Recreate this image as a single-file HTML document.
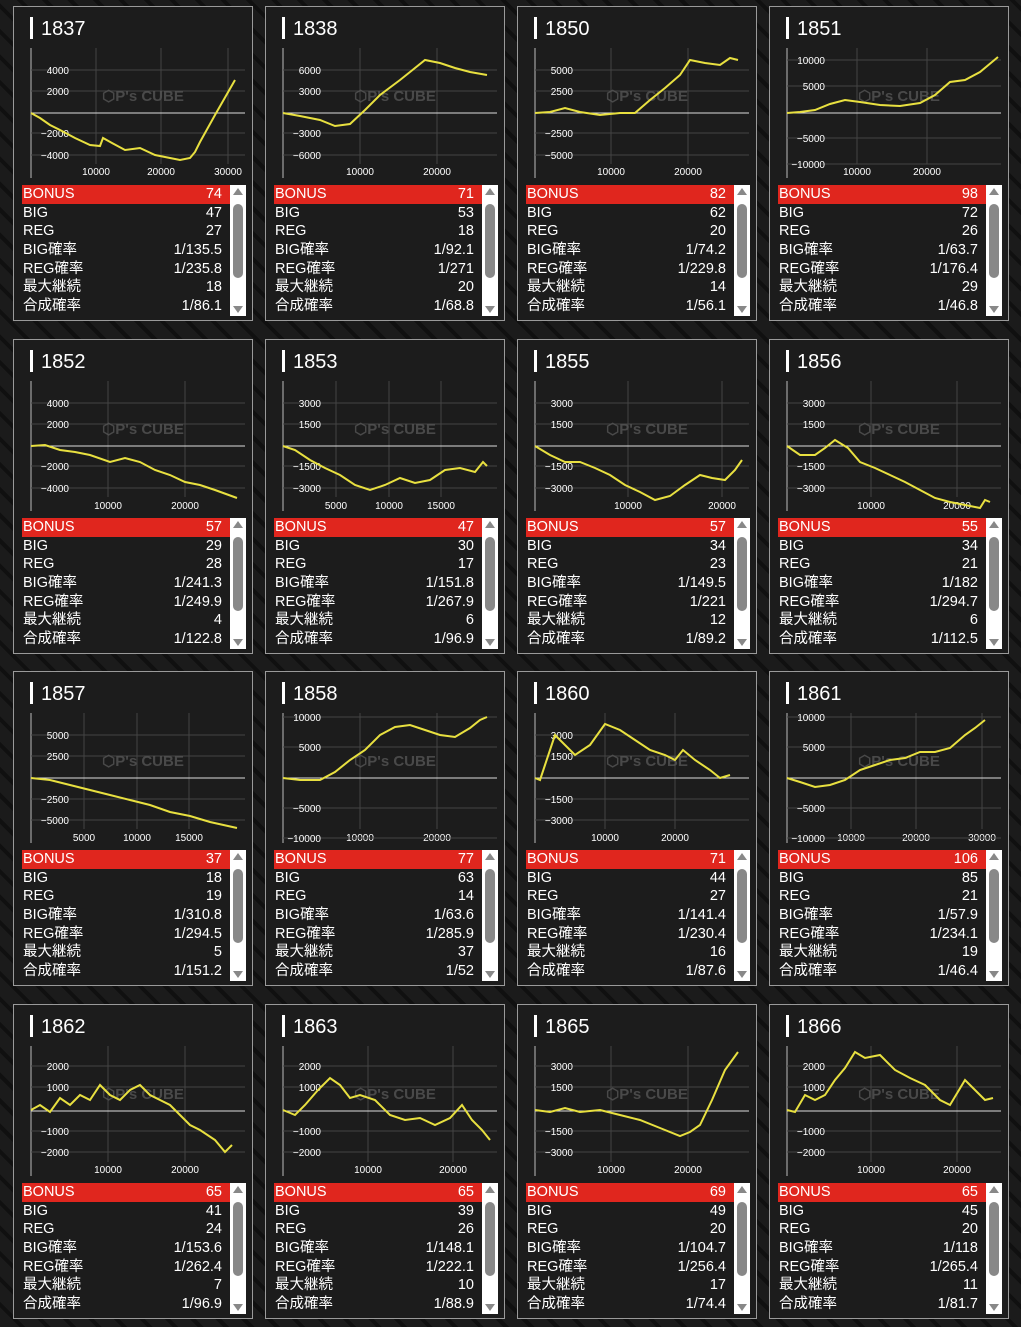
<!DOCTYPE html><html><head><meta charset="utf-8"><style>
body{margin:0;width:1021px;height:1327px;background:#161616;overflow:hidden;font-family:"Liberation Sans","Noto Sans CJK JP",sans-serif;position:relative}
.bg{position:absolute;inset:0;background:repeating-linear-gradient(45deg,#1c1c1c 0 14px,#101010 14px 18px),#151515;opacity:.9}
.card{position:absolute;width:238px;height:313px;border:1px solid #9a9a9a;background:#1c1c1c}
.tt{position:absolute;left:16px;top:10px;height:22px;border-left:3px solid #fff;padding-left:8px;color:#fff;font-size:20px;line-height:24px}
.tb{position:absolute;left:8px;top:178px;width:208px;color:#fff;font-size:14.5px}
.r{height:18.7px;line-height:18.7px;display:flex;justify-content:space-between;padding:0 8px 0 1px}
.r.b{background:#e0261e}
.sb{position:absolute;left:216px;top:178px;width:16px;height:131px;background:#fff}
.sb .th{position:absolute;left:3px;top:19px;width:10px;height:74px;background:#888;border-radius:5px}
.sb .u{position:absolute;left:3px;top:3px;border:5px solid transparent;border-bottom:7px solid #888;border-top:0}
.sb .d{position:absolute;left:3px;bottom:3px;border:5px solid transparent;border-top:7px solid #888;border-bottom:0}
svg{position:absolute;left:0;top:0}
</style></head><body><div class="bg"></div><div id="c"></div>
<svg id="s" width="1021" height="1327"></svg>
<script>
const cx=[13,265,517,769],ry=[6,339,671,1004];
const D=[
["1837",[["4000",70],["2000",91],["−2000",133],["−4000",155]],171,[["10000",96],["20000",161],["30000",228]],
[31,113,40,118,50,125,60,130,75,138,90,145,100,146,103,138,112,143,125,150,140,148,155,155,170,158,180,160,190,158,195,152,200,142,215,115,235,80],["74","47","27","1/135.5","1/235.8","18","1/86.1"]],
["1838",[["6000",70],["3000",91],["−3000",133],["−6000",155]],171,[["10000",360],["20000",437]],
[283,113,300,116,320,120,335,126,350,124,365,110,380,95,400,80,410,72,425,60,440,63,455,68,470,72,487,75],["71","53","18","1/92.1","1/271","20","1/68.8"]],
["1850",[["5000",70],["2500",91],["−2500",133],["−5000",155]],171,[["10000",611],["20000",688]],
[535,113,550,112,565,108,580,112,600,115,620,113,635,113,650,100,665,88,680,75,690,60,705,63,720,65,730,58,738,60],["82","62","20","1/74.2","1/229.8","14","1/56.1"]],
["1851",[["10000",60],["5000",86],["−5000",138],["−10000",164]],171,[["10000",857],["20000",927]],
[787,113,800,112,815,110,830,104,845,100,860,102,880,105,900,106,920,103,935,95,950,82,965,80,980,72,998,57],["98","72","26","1/63.7","1/176.4","29","1/46.8"]],
["1852",[["4000",403],["2000",424],["−2000",466],["−4000",488]],505,[["10000",108],["20000",185]],
[31,446,45,445,60,450,75,452,90,455,110,462,125,458,140,462,155,470,170,475,185,482,200,485,215,490,237,498],["57","29","28","1/241.3","1/249.9","4","1/122.8"]],
["1853",[["3000",403],["1500",424],["−1500",466],["−3000",488]],505,[["5000",336],["10000",389],["15000",441]],
[283,446,295,450,310,460,325,468,340,475,355,485,370,490,385,485,400,478,415,483,430,480,445,470,460,468,475,472,483,462,487,466],["47","30","17","1/151.8","1/267.9","6","1/96.9"]],
["1855",[["3000",403],["1500",424],["−1500",466],["−3000",488]],505,[["10000",628],["20000",722]],
[535,446,550,455,565,462,580,462,595,468,610,475,625,485,640,492,655,500,670,496,685,485,700,475,712,478,725,480,735,470,742,460],["57","34","23","1/149.5","1/221","12","1/89.2"]],
["1856",[["3000",403],["1500",424],["−1500",466],["−3000",488]],505,[["10000",871],["20000",957]],
[787,446,800,455,815,455,825,448,835,440,848,448,860,462,875,468,890,475,905,482,920,490,935,498,950,502,965,505,980,508,985,500,990,502],["55","34","21","1/182","1/294.7","6","1/112.5"]],
["1857",[["5000",735],["2500",756],["−2500",799],["−5000",820]],837,[["5000",84],["10000",137],["15000",189]],
[31,778,50,780,70,785,90,790,110,795,130,800,150,805,170,812,190,816,210,822,237,828],["37","18","19","1/310.8","1/294.5","5","1/151.2"]],
["1858",[["10000",717],["5000",747],["−5000",808],["−10000",838]],837,[["10000",360],["20000",437]],
[283,778,300,780,320,780,335,772,350,760,365,750,380,735,395,727,410,725,425,730,440,735,455,737,470,728,480,720,487,717],["77","63","14","1/63.6","1/285.9","37","1/52"]],
["1860",[["3000",735],["1500",756],["−1500",799],["−3000",820]],837,[["10000",605],["20000",675]],
[535,778,540,780,545,765,555,735,565,745,575,755,590,745,605,724,620,730,635,740,650,750,665,755,675,760,683,750,695,760,710,770,720,778,730,775],["71","44","27","1/141.4","1/230.4","16","1/87.6"]],
["1861",[["10000",717],["5000",747],["−5000",808],["−10000",838]],837,[["10000",851],["20000",916],["30000",982]],
[787,778,800,782,815,787,830,785,845,780,860,770,875,765,890,760,905,758,920,752,935,752,950,748,965,735,975,728,985,720],["106","85","21","1/57.9","1/234.1","19","1/46.4"]],
["1862",[["2000",1066],["1000",1087],["−1000",1131],["−2000",1152]],1169,[["10000",108],["20000",185]],
[31,1110,40,1105,50,1112,60,1098,70,1105,80,1095,90,1100,100,1085,110,1095,120,1100,130,1090,140,1085,150,1095,160,1100,170,1105,180,1115,190,1125,200,1130,215,1140,225,1152,232,1145],["65","41","24","1/153.6","1/262.4","7","1/96.9"]],
["1863",[["2000",1066],["1000",1087],["−1000",1131],["−2000",1152]],1169,[["10000",368],["20000",453]],
[283,1110,295,1115,305,1105,318,1090,330,1078,340,1085,350,1098,360,1095,375,1100,390,1115,405,1120,420,1118,435,1125,450,1118,462,1105,472,1120,482,1130,490,1140],["65","39","26","1/148.1","1/222.1","10","1/88.9"]],
["1865",[["3000",1066],["1500",1087],["−1500",1131],["−3000",1152]],1169,[["10000",611],["20000",688]],
[535,1110,550,1112,565,1108,580,1112,600,1110,620,1115,640,1120,660,1128,680,1136,690,1132,700,1125,712,1100,725,1070,738,1052],["69","49","20","1/104.7","1/256.4","17","1/74.4"]],
["1866",[["2000",1066],["1000",1087],["−1000",1131],["−2000",1152]],1169,[["10000",871],["20000",957]],
[787,1110,795,1112,805,1095,815,1100,825,1095,835,1080,845,1068,855,1052,865,1058,880,1055,895,1070,910,1078,925,1085,940,1100,950,1105,965,1080,975,1090,985,1100,993,1098],["65","45","20","1/118","1/265.4","11","1/81.7"]]];
const L=["BONUS","BIG","REG","BIG確率","REG確率","最大継続","合成確率"];
let h="",s="";
D.forEach((d,i)=>{const x=cx[i%4],y=ry[Math.floor(i/4)];
h+=`<div class="card" style="left:${x}px;top:${y}px"><div class="tt">${d[0]}</div><div class="tb">`+
L.map((l,k)=>`<div class="r${k?"":" b"}"><span>${l}</span><span>${d[5][k]}</span></div>`).join("")+
`</div><div class="sb"><div class="u"></div><div class="th"></div><div class="d"></div></div></div>`;
const ax=x+18,rx=x+232,zy=y+107;
s+=`<line x1="${ax}" y1="${y+42}" x2="${ax}" y2="${y+172}" stroke="#bbb"/>`;
d[3].forEach(t=>{s+=`<line x1="${t[1]}" y1="${y+42}" x2="${t[1]}" y2="${y+158}" stroke="#444"/><text x="${t[1]}" y="${d[2]+4}" fill="#fff" font-size="10" text-anchor="middle">${t[0]}</text>`});
d[1].forEach(t=>{s+=`<line x1="${ax}" y1="${t[1]}" x2="${rx}" y2="${t[1]}" stroke="#444"/><text x="${ax+38}" y="${t[1]+4}" fill="#fff" font-size="10" text-anchor="end">${t[0]}</text>`});
s+=`<line x1="${ax}" y1="${zy}" x2="${rx}" y2="${zy}" stroke="#ddd"/>`;
s+=`<text x="${x+130}" y="${y+95}" fill="#555" font-size="15" font-weight="bold" text-anchor="middle" opacity=".8">⬡P's CUBE</text>`;
s+=`<polyline points="${d[4].join(",")}" fill="none" stroke="#e8e040" stroke-width="2"/>`;});
document.getElementById("c").innerHTML=h;document.getElementById("s").innerHTML=s;
</script></body></html>
